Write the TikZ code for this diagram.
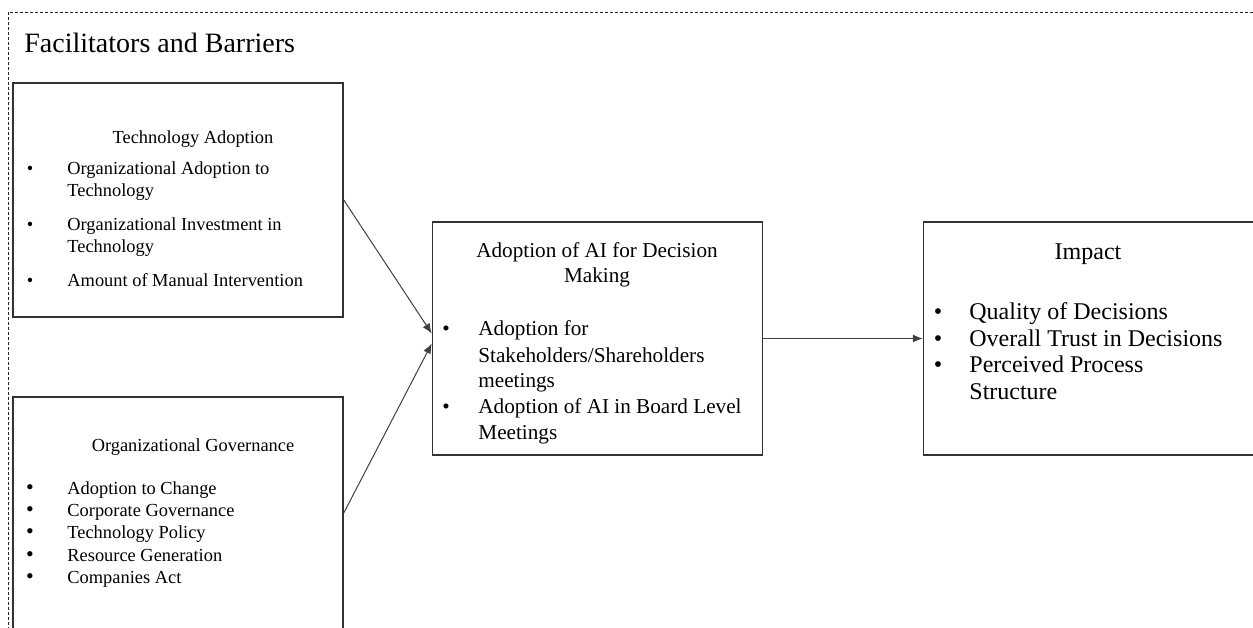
\documentclass[tikz,border=0pt]{standalone}
\usepackage{fontspec}
\setmainfont{Liberation Serif}
\usetikzlibrary{arrows.meta,positioning}

\tikzset{
    box/.style={draw=black!80, line width=0.75pt, minimum width=165pt, inner sep=0pt},
    txt/.style={anchor=base west, inner sep=0pt},
    ctr/.style={anchor=base, inner sep=0pt},
    leftfont/.style={font=\fontsize{9.2}{11}\selectfont},
    midfont/.style={font=\fontsize{10.6}{12}\selectfont},
    impfont/.style={font=\fontsize{12}{14}\selectfont},
    conn/.style={draw=black!75, line width=0.5pt, -{Latex[length=5pt,width=4pt]}}
}

\begin{document}
\begin{tikzpicture}[x=0.5pt,y=-0.5pt]
    \useasboundingbox (0,0) rectangle (1253,627);

    % outer dashed frame
    \draw[dash pattern=on 1.5pt off 1pt, line width=0.5pt, black!85] (8,12) rectangle (1270,650);
    \node[txt, font=\fontsize{14}{16}\selectfont] (fb) at (24,52) {Facilitators and Barriers};

    % boxes
    \node[box, minimum height=117pt] (tech) at (178,200) {};
    \node[box, minimum height=116pt] (gov) at (178,513) {};
    \node[box, minimum height=116.5pt] (mid) at (597.5,338.5) {};
    \node[box, minimum height=116.5pt] (imp) at (1088.5,338.5) {};

    % technology adoption
    \node[ctr, leftfont] (t0) at (193,143) {Technology Adoption};
    \node[ctr, leftfont] (tb1) at (30,174) {\textbullet};
    \node[txt, leftfont] (t1) at (67,174) {Organizational Adoption to};
    \node[txt, leftfont] (t2) at (67,196) {Technology};
    \node[ctr, leftfont] (tb2) at (30,230) {\textbullet};
    \node[txt, leftfont] (t3) at (67,230) {Organizational Investment in};
    \node[txt, leftfont] (t4) at (67,252) {Technology};
    \node[ctr, leftfont] (tb3) at (30,286) {\textbullet};
    \node[txt, leftfont] (t5) at (67,286) {Amount of Manual Intervention};

    % organizational governance
    \node[ctr, leftfont] (g0) at (193,451) {Organizational Governance};
    \foreach \y/\t [count=\i] in {494/Adoption to Change, 516/Corporate Governance,
        538/Technology Policy, 561/Resource Generation, 583/Companies Act} {
        \node[ctr, font=\fontsize{11}{11}\selectfont] (gb\i) at (30,\y) {\textbullet};
        \node[txt, leftfont] (g\i) at (67,\y) {\t};
    }

    % adoption of AI
    \node[ctr, midfont] (m0) at (597,257) {Adoption of AI for Decision};
    \node[ctr, midfont] (m00) at (597,282) {Making};
    \node[ctr, midfont] (mb1) at (446,335) {\textbullet};
    \node[txt, midfont] (m1) at (478,335) {Adoption for};
    \node[txt, midfont] (m2) at (478,362) {Stakeholders/Shareholders};
    \node[txt, midfont] (m3) at (478,387) {meetings};
    \node[ctr, midfont] (mb2) at (446,413) {\textbullet};
    \node[txt, midfont] (m4) at (478,413) {Adoption of AI in Board Level};
    \node[txt, midfont] (m5) at (478,439) {Meetings};

    % impact
    \node[ctr, impfont] (i0) at (1088,259) {Impact};
    \node[ctr, impfont] (ib1) at (938,319) {\textbullet};
    \node[txt, impfont] (i1) at (969,319) {Quality of Decisions};
    \node[ctr, impfont] (ib2) at (938,346) {\textbullet};
    \node[txt, impfont] (i2) at (969,346) {Overall Trust in Decisions};
    \node[ctr, impfont] (ib3) at (938,372) {\textbullet};
    \node[txt, impfont] (i3) at (969,372) {Perceived Process};
    \node[txt, impfont] (i4) at (969,399) {Structure};

    \draw
    (tech.east) edge[conn] ([yshift=2.5pt]mid.west)
    (gov.east) edge[conn] ([yshift=-2.5pt]mid.west)
    (mid.east) edge[conn] (imp.west);
\end{tikzpicture}
\end{document}
